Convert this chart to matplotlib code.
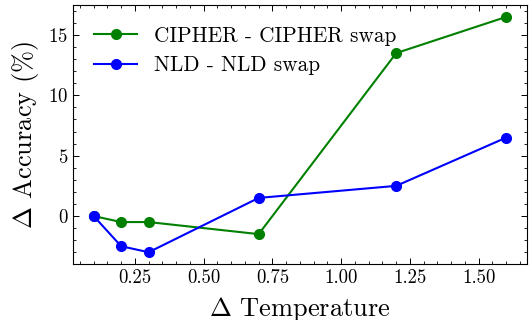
import matplotlib
matplotlib.use('Agg')
import matplotlib.pyplot as plt
from matplotlib.ticker import AutoMinorLocator

# data
temp_delta = [0.1, 0.2, 0.3, 0.7, 1.2, 1.6]
cipher_acc = [0.0, -0.5, -0.5, -1.5, 13.5, 16.5]
nld_acc = [0.0, -2.5, -3.0, 1.5, 2.5, 6.5]

plt.rcParams['font.family'] = 'serif'
plt.rcParams['font.serif'] = ['cmr10']
plt.rcParams['mathtext.fontset'] = 'cm'
plt.rcParams['axes.formatter.use_mathtext'] = True
plt.rcParams['axes.unicode_minus'] = False

fig = plt.figure(figsize=(5.29, 3.2), dpi=100)
ax = fig.add_axes([0.138, 0.175, 0.858, 0.809])

ax.plot(temp_delta, cipher_acc, color='green', marker='o', markersize=7,
        linewidth=1.5, label='CIPHER - CIPHER swap')
ax.plot(temp_delta, nld_acc, color='blue', marker='o', markersize=7,
        linewidth=1.5, label='NLD - NLD swap')

ax.set_xlabel(r'$\Delta$ Temperature', fontsize=19, labelpad=6)
ax.set_ylabel(r'$\Delta$ Accuracy (%)', fontsize=19, labelpad=5)

ax.set_xticks([0.25, 0.50, 0.75, 1.00, 1.25, 1.50])
ax.set_xticklabels(['0.25', '0.50', '0.75', '1.00', '1.25', '1.50'])
ax.set_yticks([0, 5, 10, 15])

ax.xaxis.set_minor_locator(AutoMinorLocator(5))
ax.yaxis.set_minor_locator(AutoMinorLocator(5))
ax.tick_params(which='both', direction='in', top=True, right=True, labelsize=13.5)
ax.tick_params(which='major', length=4, width=0.7)
ax.tick_params(which='minor', length=2, width=0.6)
for s in ax.spines.values():
    s.set_linewidth(0.8)

ax.legend(loc='upper left', frameon=False, fontsize=15.3,
          handlelength=2.0, handletextpad=0.8, borderaxespad=0.6,
          labelspacing=0.45)

plt.savefig('out.png', dpi=100)
